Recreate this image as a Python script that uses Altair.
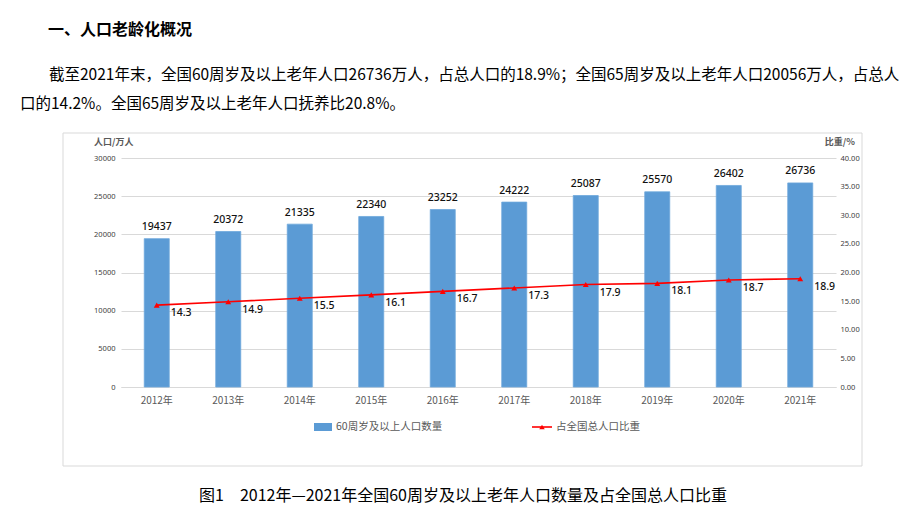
import altair as alt
import pandas as pd

years = ["2012年", "2013年", "2014年", "2015年", "2016年", "2017年", "2018年", "2019年", "2020年", "2021年"]
pop = [19437, 20372, 21335, 22340, 23252, 24222, 25087, 25570, 26402, 26736]
ratio = [14.3, 14.9, 15.5, 16.1, 16.7, 17.3, 17.9, 18.1, 18.7, 18.9]

heading = "一、人口老龄化概况"
para1 = "截至2021年末，全国60周岁及以上老年人口26736万人，占总人口的18.9%；全国65周岁及以上老年人口20056万人，占总人"
para2 = "口的14.2%。全国65周岁及以上老年人口抚养比20.8%。"
caption = "图1\u30002012年—2021年全国60周岁及以上老年人口数量及占全国总人口比重"
left_title = "人口/万人"
right_title = "比重/%"
legend_bar = "60周岁及以上人口数量"
legend_line = "占全国总人口比重"

CJK = "Noto Sans CJK SC"
BLUE = "#5b9bd5"
RED = "#ff0000"
GRAY = "#595959"

df = pd.DataFrame({"year": years, "pop": pop, "ratio": ratio})

xenc = alt.X("year:N", sort=years, title=None,
             scale=alt.Scale(paddingInner=0.65, paddingOuter=0.325),
             axis=alt.Axis(labelAngle=0, ticks=False, labelPadding=8, labelFont=CJK,
                           labelFontSize=10, labelColor=GRAY, domainColor="#d9d9d9"))

ypop = alt.Y("pop:Q", title=None, scale=alt.Scale(domain=[0, 30000]),
             axis=alt.Axis(orient="left", values=list(range(0, 30001, 5000)), domain=False, ticks=False,
                           labelFont="Noto Sans", labelFontSize=7.5, labelColor="#404040",
                           labelPadding=6, gridColor="#d9d9d9", gridWidth=1, format="d"))

yratio = alt.Y("ratio:Q", title=None, scale=alt.Scale(domain=[0, 40]),
               axis=alt.Axis(orient="right", values=list(range(0, 41, 5)), domain=False, ticks=False,
                             grid=False, format=".2f", labelFont="Noto Sans", labelFontSize=7.5,
                             labelColor="#404040", labelPadding=4))

base = alt.Chart(df)
bars = base.mark_bar(color=BLUE, stroke="#6fa8dc", strokeWidth=0.8).encode(x=xenc, y=ypop)
bar_text = base.mark_text(dy=-11.5, baseline="middle", font="Noto Sans", fontSize=10.5, fontWeight=500,
                          color="#111111").encode(x=xenc, y=ypop, text=alt.Text("pop:Q", format="d"))

line = base.mark_line(color=RED, strokeWidth=1.6).encode(x=xenc, y=yratio)
pts = base.mark_point(shape="triangle-up", filled=True, color=RED, size=35, opacity=1).encode(x=xenc, y=yratio)
line_text = base.mark_text(align="left", baseline="middle", dx=14, dy=8, font="Noto Sans", fontSize=10.5,
                           fontWeight=500, color="#111111").encode(
    x=xenc, y=yratio, text=alt.Text("ratio:Q", format=".1f"))

left_group = alt.layer(bars, bar_text)
right_group = alt.layer(line, pts, line_text)


def txt(s, x, y, size, align="left", weight="normal", color="#000000", font=CJK):
    return alt.Chart(pd.DataFrame({"t": [s]})).mark_text(
        align=align, baseline="middle", font=font, fontSize=size, fontWeight=weight, color=color
    ).encode(text="t:N", x=alt.value(x), y=alt.value(y))


one = pd.DataFrame({"k": [0]})
frame = alt.Chart(one).mark_rect(fill="#ffffff", fillOpacity=0, stroke="#d9d9d9", strokeWidth=1).encode(
    x=alt.value(-58), x2=alt.value(741), y=alt.value(-25), y2=alt.value(308))
swatch = alt.Chart(one).mark_rect(color=BLUE).encode(
    x=alt.value(193), x2=alt.value(211), y=alt.value(265), y2=alt.value(273))
leg_rule = alt.Chart(one).mark_rule(color=RED, strokeWidth=1.6).encode(
    x=alt.value(411), x2=alt.value(431), y=alt.value(269))
leg_pt = alt.Chart(one).mark_point(shape="triangle-up", filled=True, color=RED, size=30, opacity=1).encode(
    x=alt.value(421), y=alt.value(269))

annots = [
    txt(heading, -73, -128, 16, weight="bold"),
    txt(para1, -72, -83, 15.5),
    txt(para2, -101, -54, 15.5),
    txt(left_title, -27, -16, 9, weight="bold", color=GRAY),
    txt(right_title, 734, -16, 9, align="right", weight="bold", color=GRAY),
    txt(legend_bar, 215, 269, 10.5, color=GRAY),
    txt(legend_line, 435, 269, 10.5, color=GRAY),
    txt(caption, 342, 338, 16, align="center"),
]

chart = alt.layer(
    frame,
    left_group,
    right_group,
    swatch, leg_rule, leg_pt,
    *annots,
).resolve_scale(y="independent").properties(
    width=715,
    height=229,
    padding={"left": 113, "top": 150, "right": 70, "bottom": 122},
    autosize=alt.AutoSizeParams(type="none"),
    background="#ffffff",
).configure_view(stroke=None)

chart.save("out.html", embed_options={"renderer": "svg", "actions": False})
